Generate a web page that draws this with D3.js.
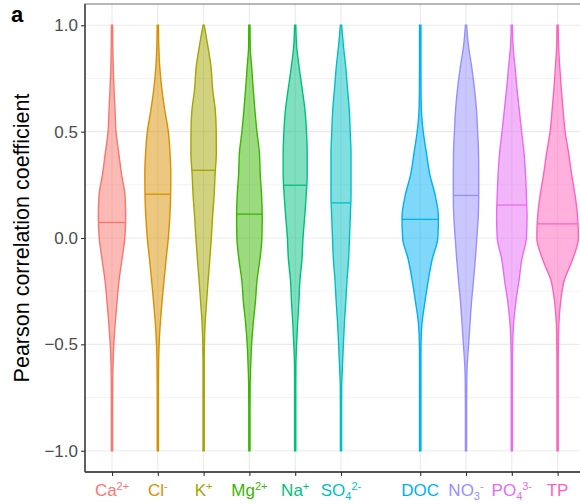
<!DOCTYPE html>
<html><head><meta charset="utf-8">
<script src="https://cdn.jsdelivr.net/npm/d3@7"></script>
<style>body{margin:0;background:#fff}svg{display:block}</style>
</head><body><svg id="c" width="580" height="504"></svg>
<script>
const categories = ["Ca","Cl","K","Mg","Na","SO4","DOC","NO3","PO4","TP"];
// label parts: [text, 0 normal / 1 superscript / -1 subscript]
const labelParts = [
  [["Ca",0],["2+",1]],
  [["Cl",0],["-",1]],
  [["K",0],["+",1]],
  [["Mg",0],["2+",1]],
  [["Na",0],["+",1]],
  [["SO",0],["4",-1],["2-",1]],
  [["DOC",0]],
  [["NO",0],["3",-1],["-",1]],
  [["PO",0],["4",-1],["3-",1]],
  [["TP",0]]
];
const xPositions = [1,2,3,4,5,6,7.73,8.73,9.73,10.73];
const colors = ["#F8766D","#D89000","#A3A500","#39B600","#00BF7D","#00BFC4","#00B0F6","#9590FF","#E76BF3","#FF62BC"];
const gridValues = [1.0,0.9,0.8,0.7,0.6,0.5,0.4,0.3,0.2,0.1,0.0,-0.1,-0.2,-0.3,-0.4,-0.5,-0.6,-0.7,-0.8,-0.9,-1.0];
const densCa  = [0.06,0.08,0.12,0.2,0.3,0.4,0.67,0.95,1.3,1.37,1.28,1.0,0.7,0.5,0.32,0.18,0.1,0.07,0.06,0.06,0.06];
const densCl  = [0.06,0.1,0.2,0.4,0.7,1.05,1.22,1.3,1.28,1.2,1.05,0.83,0.62,0.42,0.25,0.13,0.08,0.06,0.06,0.06,0.06];
const densK   = [0.06,0.43,0.75,0.9,1.17,1.26,1.27,1.15,1.05,0.9,0.77,0.62,0.45,0.3,0.15,0.08,0.06,0.06,0.06,0.06,0.06];
const densMg  = [0.06,0.08,0.23,0.38,0.55,0.75,1.0,1.08,1.22,1.28,1.25,1.05,0.76,0.6,0.38,0.22,0.13,0.07,0.06,0.06,0.06];
const densNa  = [0.06,0.15,0.4,0.7,0.98,1.13,1.2,1.2,1.1,0.95,0.78,0.68,0.47,0.37,0.24,0.14,0.07,0.06,0.06,0.06,0.06];
const densSO4 = [0.06,0.25,0.48,0.65,0.83,0.92,1.0,1.0,1.0,0.93,0.85,0.76,0.6,0.48,0.34,0.24,0.15,0.07,0.06,0.06,0.06];
const densDOC = [0.07,0.07,0.07,0.08,0.12,0.3,0.62,0.95,1.5,1.82,1.76,1.2,0.8,0.47,0.18,0.08,0.07,0.07,0.07,0.07,0.07];
const densNO3 = [0.06,0.25,0.58,0.85,1.05,1.16,1.25,1.27,1.27,1.22,1.08,0.93,0.75,0.55,0.4,0.26,0.12,0.07,0.06,0.06,0.06];
const densPO4 = [0.06,0.13,0.33,0.52,0.75,0.98,1.22,1.37,1.46,1.52,1.46,1.0,0.72,0.4,0.18,0.09,0.06,0.06,0.06,0.06,0.06];
const densTP  = [0.06,0.1,0.22,0.37,0.55,0.75,1.1,1.4,1.75,2.0,2.08,1.5,0.66,0.3,0.13,0.08,0.06,0.06,0.06,0.06,0.06];
const densities = [densCa,densCl,densK,densMg,densNa,densSO4,densDOC,densNO3,densPO4,densTP];
const medians = [0.073,0.206,0.318,0.112,0.248,0.165,0.088,0.2,0.155,0.066];
const yTicks = [1.0,0.5,0.0,-0.5,-1.0];
const yMinor = [0.75,0.25,-0.25,-0.75];

const svg = d3.select("#c");
const L = 85, R = 586, T = 4, B = 472;
const x = d3.scaleLinear().domain([0.41, 11.35]).range([L, R]);
const y = d3.scaleLinear().domain([-1.1, 1.1]).range([B, T]);
const w = d3.scaleLinear().domain([0, 1]).range([0, 10]);
const font = "Liberation Sans, Arial, Helvetica, sans-serif";

// gridlines
const g = svg.append("g");
g.selectAll(".minor").data(yMinor).join("line")
  .attr("x1", L).attr("x2", R).attr("y1", d => y(d)).attr("y2", d => y(d))
  .attr("stroke", "#EBEBEB").attr("stroke-width", 0.6);
g.selectAll(".major").data(yTicks).join("line")
  .attr("x1", L).attr("x2", R).attr("y1", d => y(d)).attr("y2", d => y(d))
  .attr("stroke", "#EBEBEB").attr("stroke-width", 1.2);
g.selectAll(".vmajor").data(xPositions).join("line")
  .attr("x1", d => x(d)).attr("x2", d => x(d)).attr("y1", T).attr("y2", B)
  .attr("stroke", "#EBEBEB").attr("stroke-width", 1.2);

// violins
const interp = (dens, v) => {
  for (let i = 0; i < gridValues.length - 1; i++) {
    const a = gridValues[i], b = gridValues[i+1];
    if (v <= a && v >= b) {
      const t = (a - v) / (a - b);
      return dens[i] + t * (dens[i+1] - dens[i]);
    }
  }
  return 0;
};
categories.forEach((c, i) => {
  const cx = x(xPositions[i]);
  const pts = gridValues.map((v, j) => ({v, d: densities[i][j]}));
  const area = d3.area().curve(d3.curveMonotoneY)
    .y(d => y(d.v)).x0(d => cx - w(d.d)).x1(d => cx + w(d.d));
  svg.append("path").datum(pts).attr("d", area)
    .attr("fill", colors[i]).attr("fill-opacity", 0.5)
    .attr("stroke", colors[i]).attr("stroke-width", 1.4);
  const hw = w(interp(densities[i], medians[i]));
  svg.append("line").attr("x1", cx - hw).attr("x2", cx + hw)
    .attr("y1", y(medians[i])).attr("y2", y(medians[i]))
    .attr("stroke", colors[i]).attr("stroke-width", 1.3);
});

// panel border and axes
svg.append("rect").attr("x", L).attr("y", T).attr("width", R - L).attr("height", B - T)
  .attr("fill", "none").attr("stroke", "#4D4D4D").attr("stroke-width", 0.8);
svg.append("line").attr("x1", L).attr("x2", L).attr("y1", T).attr("y2", B).attr("stroke", "#333").attr("stroke-width", 1.3);
svg.append("line").attr("x1", L).attr("x2", R).attr("y1", B).attr("y2", B).attr("stroke", "#333").attr("stroke-width", 1.3);

const yAxis = d3.axisLeft(y).tickValues(yTicks).tickSize(4).tickPadding(3)
  .tickFormat(d => d3.format(".1f")(d).replace("-", "\u2212"));
const ya = svg.append("g").attr("transform", `translate(${L},0)`).call(yAxis);
ya.select(".domain").remove();
ya.selectAll(".tick line").attr("stroke", "#333").attr("stroke-width", 1.1);
ya.selectAll(".tick text").attr("fill", "#4D4D4D").style("font-family", font).style("font-size", "17px");

const xAxis = d3.axisBottom(x).tickValues(xPositions).tickSize(4).tickFormat("");
const xa = svg.append("g").attr("transform", `translate(0,${B})`).call(xAxis);
xa.select(".domain").remove();
xa.selectAll(".tick line").attr("stroke", "#333").attr("stroke-width", 1.1);

// x labels with super/subscripts
labelParts.forEach((parts, i) => {
  const t = svg.append("text").attr("x", x(xPositions[i])).attr("y", 495.5)
    .attr("text-anchor", "middle").attr("fill", colors[i])
    .style("font-family", font).style("font-size", "17px");
  let cur = 0;
  parts.forEach(([s, k]) => {
    const off = k === 1 ? -6 : (k === -1 ? 4 : 0);
    t.append("tspan").attr("dy", off - cur)
      .style("font-size", k === 0 ? "17px" : "11px").text(s);
    cur = off;
  });
});

// y label
svg.append("text").attr("transform", "translate(29,238) rotate(-90)")
  .attr("text-anchor", "middle").attr("fill", "#000")
  .style("font-family", font).style("font-size", "21.5px")
  .text("Pearson correlation coefficient");

// panel tag
svg.append("text").attr("x", 11).attr("y", 22).attr("fill", "#000")
  .style("font-family", font).style("font-size", "22px").style("font-weight", "bold").text("a");
</script></body></html>
